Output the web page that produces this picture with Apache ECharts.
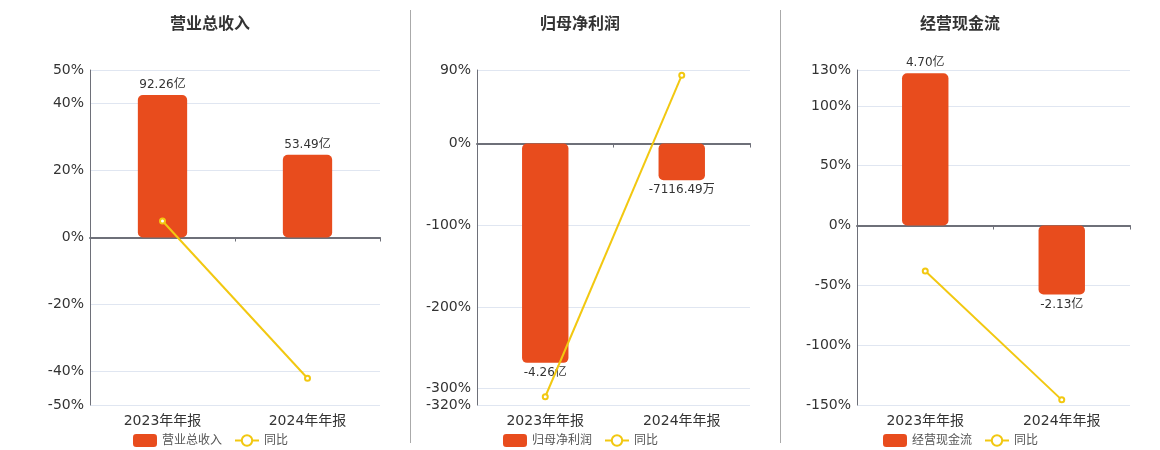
<!DOCTYPE html>
<html>
<head>
<meta charset="utf-8">
<script src="https://cdn.jsdelivr.net/npm/echarts@6/dist/echarts.min.js"></script>
<style>
  html, body { margin: 0; padding: 0; background: #fff; }
  #chart { width: 1160px; height: 450px; }
</style>
</head>
<body>
<div id="chart"></div>
<script>
var categories = ['2023年年报', '2024年年报'];
var titles = ['营业总收入', '归母净利润', '经营现金流'];

// amounts in 亿
var revenue = [92.26, 53.49];
var netProfit = [-4.26, -0.711649];
var cashFlow = [4.70, -2.13];

// year-on-year, %
var revenueYoy = [4.93, -42.02];
var netProfitYoy = [-309.9, 83.5];
var cashFlowYoy = [-38.0, -145.7];

var barValues = [revenue, netProfit, cashFlow];
var yoyValues = [revenueYoy, netProfitYoy, cashFlowYoy];

// axis ranges
var pctRange = [[-50, 50], [-320, 90], [-150, 130]];
var barRange = [[-108.4, 108.4], [-5.078, 1.427], [-5.54, 4.80]];

var grids = [
    { left: 90, right: 780, top: 70, bottom: 45 },
    { left: 477, right: 410, top: 70, bottom: 45 },
    { left: 857, right: 30, top: 70, bottom: 45 }
];
var centers = [210, 580, 960];
var legendLeft = [133, 503, 883];

var FONT = 'DejaVu Sans, Noto Sans CJK SC, sans-serif';
var BAR_COLOR = '#E84C1D';
var LINE_COLOR = '#F2C811';

function fmtAmount(v) {
    if (Math.abs(v) >= 1) {
        return v.toFixed(2) + '亿';
    }
    return (v * 10000).toFixed(2) + '万';
}

var option = {
    animation: false,
    textStyle: { fontFamily: FONT },
    title: [],
    legend: [],
    grid: grids,
    xAxis: [],
    yAxis: [],
    series: [],
    graphic: [
        { type: 'line', shape: { x1: 410.5, y1: 10, x2: 410.5, y2: 443 }, style: { stroke: '#aaa', lineWidth: 1 } },
        { type: 'line', shape: { x1: 780.5, y1: 10, x2: 780.5, y2: 443 }, style: { stroke: '#aaa', lineWidth: 1 } }
    ]
};

for (var i = 0; i < 3; i++) {
    option.title.push({
        text: titles[i],
        left: centers[i] - 5,
        top: 12,
        textAlign: 'center',
        textStyle: { fontSize: 16, fontWeight: 'bold', color: '#333', fontFamily: FONT }
    });
    option.legend.push({
        data: [titles[i], '同比'],
        left: legendLeft[i] - 5,
        top: 429,
        itemWidth: 24,
        itemHeight: 13,
        itemGap: 12,
        textStyle: { fontSize: 12, color: '#555', fontFamily: FONT }
    });
    // labels along the bottom
    option.xAxis.push({
        type: 'category',
        gridIndex: i,
        data: categories,
        position: 'bottom',
        axisLine: { show: false, onZero: false },
        axisTick: { show: false },
        axisLabel: { fontSize: 14, color: '#333', margin: 9 }
    });
    // zero line with ticks
    option.xAxis.push({
        type: 'category',
        gridIndex: i,
        data: categories,
        position: 'bottom',
        axisLine: { show: true, onZero: true, lineStyle: { color: '#6E7079', width: 2 } },
        axisTick: { show: true, length: 4, lineStyle: { color: '#6E7079' } },
        axisLabel: { show: false }
    });
    option.yAxis.push({
        type: 'value',
        gridIndex: i,
        min: pctRange[i][0],
        max: pctRange[i][1],
        splitNumber: 5,
        axisLine: { show: true, lineStyle: { color: '#6E7079' } },
        axisTick: { show: false },
        axisLabel: { formatter: '{value}%', fontSize: 14, color: '#333', margin: 6 },
        splitLine: { lineStyle: { color: '#E0E6F1' } }
    });
    option.yAxis.push({
        type: 'value',
        gridIndex: i,
        show: false,
        min: barRange[i][0],
        max: barRange[i][1],
        splitLine: { show: false }
    });

    option.series.push({
        name: titles[i],
        type: 'bar',
        xAxisIndex: i * 2 + 1,
        yAxisIndex: i * 2 + 1,
        barWidth: '34%',
        itemStyle: { color: BAR_COLOR, borderRadius: 5 },
        data: barValues[i].map(function (v) {
            return {
                value: v,
                label: {
                    show: true,
                    position: v >= 0 ? 'top' : 'bottom',
                    distance: 4,
                    formatter: function (p) { return fmtAmount(p.value); },
                    fontSize: 12,
                    color: '#333'
                }
            };
        })
    });
    option.series.push({
        name: '同比',
        type: 'line',
        xAxisIndex: i * 2 + 1,
        yAxisIndex: i * 2,
        symbol: 'emptyCircle',
        symbolSize: 5,
        lineStyle: { color: LINE_COLOR, width: 2 },
        itemStyle: { color: LINE_COLOR },
        data: yoyValues[i]
    });
}

var myChart = echarts.init(document.getElementById('chart'));
myChart.setOption(option);
</script>
</body>
</html>
